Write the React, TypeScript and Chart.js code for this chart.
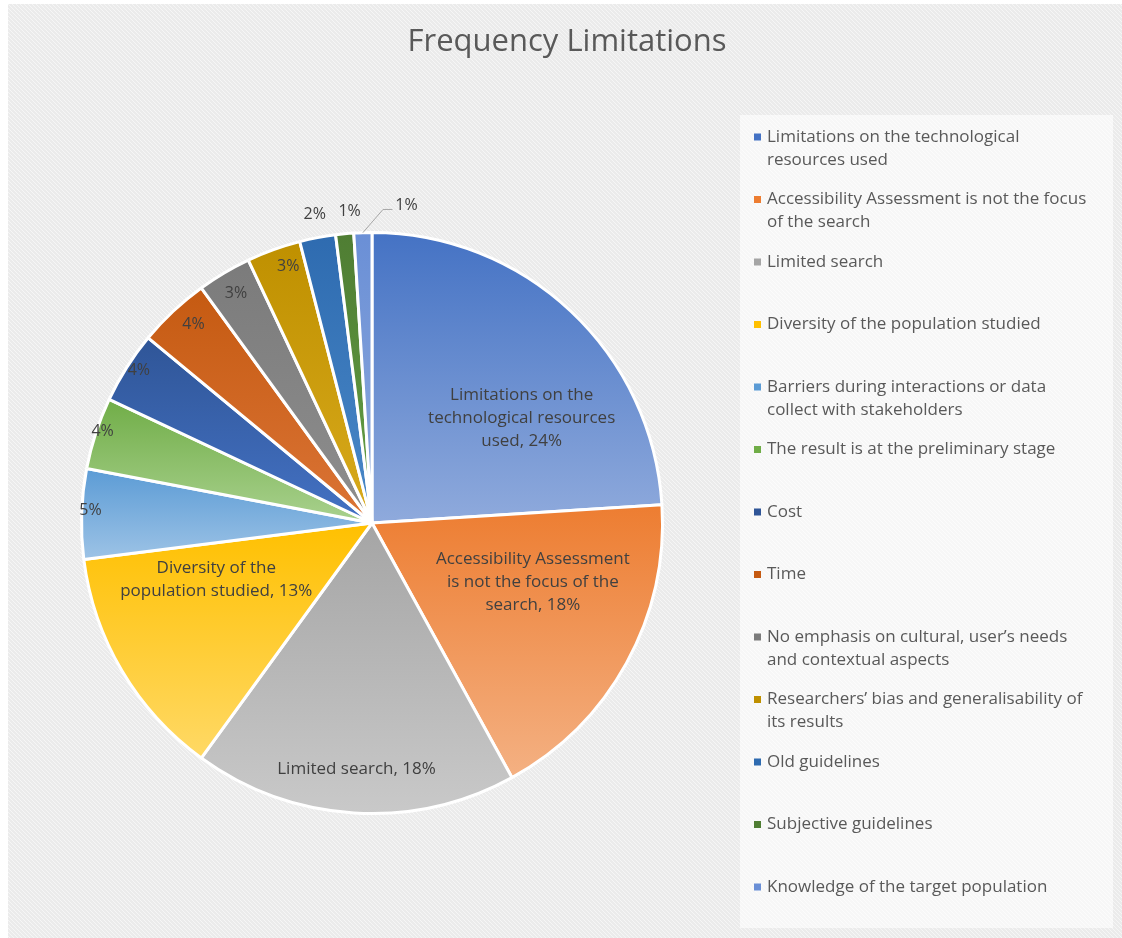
import React, { useEffect, useRef } from "react";
import { Chart, registerables } from "chart.js";

Chart.register(...registerables);

const TITLE = "Frequency Limitations";

const categories = [
  "Limitations on the technological resources used",
  "Accessibility Assessment is not the focus of the search",
  "Limited search",
  "Diversity of the population studied",
  "Barriers during interactions or data collect with stakeholders",
  "The result is at the preliminary stage",
  "Cost",
  "Time",
  "No emphasis on cultural, user\u2019s needs and contextual aspects",
  "Researchers\u2019 bias and generalisability of its results",
  "Old guidelines",
  "Subjective guidelines",
  "Knowledge of the target population",
];

const percentages = [24, 18, 18, 13, 5, 4, 4, 4, 3, 3, 2, 1, 1];

// gradient colours per slice (top -> bottom)
const topColors = [
  "#4472C4", "#ED7D31", "#A5A5A5", "#FFC000", "#5B9BD5", "#70AD47",
  "#2F5597", "#C55A11", "#7B7B7B", "#BF9000", "#2E6BB0", "#4F7D33", "#6A8FD6",
];
const bottomColors = [
  "#8FAADC", "#F4B183", "#C9C9C9", "#FFD966", "#9DC3E6", "#A9D18E",
  "#4472C4", "#DB7436", "#8E8E8E", "#D8AA1C", "#4A89C8", "#64A045", "#8EAADC",
];

// label placement: position within slice (angle fraction), radius fraction, show name, wrap width
const labelLayout = [
  { at: 0.635, r: 0.63, name: true, wrap: 200 },
  { at: 0.367, r: 0.59, name: true, wrap: 202 },
  { at: 0.5, r: 0.85, name: true, wrap: 230 },
  { at: 0.73, r: 0.57, name: true, wrap: 200 },
  { at: 0.54, r: 0.97, name: false, wrap: 0 },
  { at: 0.56, r: 0.98, name: false, wrap: 0 },
  { at: 0.56, r: 0.96, name: false, wrap: 0 },
  { at: 0.59, r: 0.92, name: false, wrap: 0 },
  { at: 0.5, r: 0.92, name: false, wrap: 0 },
  { at: 0.66, r: 0.93, name: false, wrap: 0 },
  { at: 0.54, r: 1.08, name: false, wrap: 0 },
  { at: 0.86, r: 1.075, name: false, wrap: 0 },
  { at: 2.72, r: 1.1, name: false, wrap: 0, leader: { at: 1.56, r: 1.08 } },
];

const FONT = "'Open Sans', 'Noto Sans', sans-serif";

function wrapText(ctx: CanvasRenderingContext2D, text: string, maxW: number): string[] {
  if (!maxW) return [text];
  const words = text.split(" ");
  const lines: string[] = [];
  let cur = "";
  for (const w of words) {
    const t = cur ? cur + " " + w : w;
    if (cur && ctx.measureText(t).width > maxW) {
      lines.push(cur);
      cur = w;
    } else cur = t;
  }
  if (cur) lines.push(cur);
  return lines;
}

function makePattern(ctx: CanvasRenderingContext2D, base: string, stripe: string) {
  const c = document.createElement("canvas");
  c.width = 4;
  c.height = 4;
  const g = c.getContext("2d")!;
  g.fillStyle = base;
  g.fillRect(0, 0, 4, 4);
  g.fillStyle = stripe;
  for (let i = 0; i < 4; i++) g.fillRect(i, i, 1, 1);
  return ctx.createPattern(c, "repeat");
}

function sliceGradient(context: any) {
  const i = context.dataIndex;
  const chart = context.chart;
  const area = chart.chartArea;
  if (!area || i == null) return topColors[i ?? 0];
  const data: number[] = context.dataset.data;
  const total = data.reduce((s: number, v: number) => s + v, 0);
  let cum = 0;
  for (let k = 0; k < i; k++) cum += data[k];
  const cx = (area.left + area.right) / 2;
  const cy = (area.top + area.bottom) / 2;
  const R = Math.min(area.right - area.left, area.bottom - area.top) / 2;
  const a0 = -Math.PI / 2 + (2 * Math.PI * cum) / total;
  const a1 = -Math.PI / 2 + (2 * Math.PI * (cum + data[i])) / total;
  const ys = [cy, cy + Math.sin(a0) * R, cy + Math.sin(a1) * R];
  const within = (a: number) => {
    for (const off of [0, 2 * Math.PI, -2 * Math.PI]) {
      if (a + off >= a0 && a + off <= a1) return true;
    }
    return false;
  };
  if (within(-Math.PI / 2)) ys.push(cy - R);
  if (within(Math.PI / 2)) ys.push(cy + R);
  const ymin = Math.min(...ys);
  const ymax = Math.max(...ys);
  const g = chart.ctx.createLinearGradient(0, ymin, 0, Math.max(ymax, ymin + 1));
  g.addColorStop(0, topColors[i]);
  g.addColorStop(1, bottomColors[i]);
  return g;
}

const backgroundPlugin = {
  id: "excelBackground",
  beforeDraw(chart: any) {
    const ctx: CanvasRenderingContext2D = chart.ctx;
    ctx.save();
    ctx.fillStyle = "#ffffff";
    ctx.fillRect(0, 0, chart.width, chart.height);
    ctx.fillStyle = makePattern(ctx, "#ebebeb", "#f6f6f6") as any;
    ctx.fillRect(8, 4, chart.width - 8, chart.height - 4);
    ctx.fillStyle = makePattern(ctx, "#f7f7f7", "#fcfcfc") as any;
    ctx.fillRect(740, 115, 373, 813);
    ctx.restore();
  },
};

const titleLegendPlugin = {
  id: "titleLegend",
  afterDraw(chart: any) {
    const ctx: CanvasRenderingContext2D = chart.ctx;
    ctx.save();
    // title
    ctx.fillStyle = "#595959";
    ctx.font = `31px ${FONT}`;
    ctx.textAlign = "center";
    ctx.textBaseline = "middle";
    ctx.fillText(TITLE, 567, 42);

    // legend
    const labels: string[] = chart.data.labels;
    ctx.font = `17px ${FONT}`;
    ctx.textAlign = "left";
    labels.forEach((lab, i) => {
      const y0 = 137 + i * 62.5;
      ctx.fillStyle = topColors[i];
      ctx.fillRect(754, y0 - 3.5, 7, 7);
      ctx.fillStyle = "#595959";
      const lines = wrapText(ctx, lab, 326);
      lines.forEach((ln, k) => ctx.fillText(ln, 767, y0 + k * 23));
    });
    ctx.restore();
  },
};

const sliceLabelPlugin = {
  id: "sliceLabels",
  afterDatasetsDraw(chart: any) {
    const ctx: CanvasRenderingContext2D = chart.ctx;
    const meta = chart.getDatasetMeta(0);
    const labels: string[] = chart.data.labels;
    const values: number[] = chart.data.datasets[0].data;
    ctx.save();
    ctx.fillStyle = "#404040";
    ctx.textAlign = "center";
    ctx.textBaseline = "middle";
    meta.data.forEach((arc: any, i: number) => {
      const p = arc.getProps(["x", "y", "startAngle", "endAngle", "outerRadius"], true);
      const cfg: any = labelLayout[i];
      const span = p.endAngle - p.startAngle;
      const a = p.startAngle + span * cfg.at;
      const r = p.outerRadius * cfg.r;
      const lx = p.x + Math.cos(a) * r;
      const ly = p.y + Math.sin(a) * r;
      const pct = `${values[i]}%`;
      if (cfg.leader) {
        const am = p.startAngle + span * 0.5;
        const sx = p.x + Math.cos(am) * p.outerRadius;
        const sy = p.y + Math.sin(am) * p.outerRadius;
        const ae = p.startAngle + span * cfg.leader.at;
        const ex = p.x + Math.cos(ae) * p.outerRadius * cfg.leader.r;
        const ey = p.y + Math.sin(ae) * p.outerRadius * cfg.leader.r;
        ctx.strokeStyle = "#a6a6a6";
        ctx.lineWidth = 1;
        ctx.beginPath();
        ctx.moveTo(sx, sy);
        ctx.lineTo(ex, ey);
        ctx.lineTo(lx - 14, ey);
        ctx.stroke();
      }
      if (cfg.name) {
        ctx.font = `17px ${FONT}`;
        const lines = wrapText(ctx, `${labels[i]}, ${pct}`, cfg.wrap);
        const lh = 23;
        const top = ly - ((lines.length - 1) * lh) / 2;
        lines.forEach((ln, k) => ctx.fillText(ln, lx, top + k * lh));
      } else {
        ctx.font = `16px ${FONT}`;
        ctx.fillText(pct, lx, ly);
      }
    });
    ctx.restore();
  },
};

export default function App() {
  const canvasRef = useRef<HTMLCanvasElement | null>(null);

  useEffect(() => {
    if (!canvasRef.current) return;
    const chart = new Chart(canvasRef.current, {
      type: "pie",
      data: {
        labels: categories,
        datasets: [
          {
            data: percentages,
            backgroundColor: sliceGradient as any,
            borderColor: "#ffffff",
            borderWidth: 3,
          },
        ],
      },
      options: {
        responsive: true,
        maintainAspectRatio: false,
        animation: false,
        layout: { padding: { left: 79, right: 457, top: 231, bottom: 123 } },
        plugins: {
          legend: { display: false },
          title: { display: false },
          tooltip: { enabled: false },
        },
      },
      plugins: [backgroundPlugin, sliceLabelPlugin, titleLegendPlugin],
    });
    return () => chart.destroy();
  }, []);

  return (
    <div style={{ position: "absolute", left: 0, top: 0, width: 1122, height: 938 }}>
      <canvas ref={canvasRef} />
    </div>
  );
}
